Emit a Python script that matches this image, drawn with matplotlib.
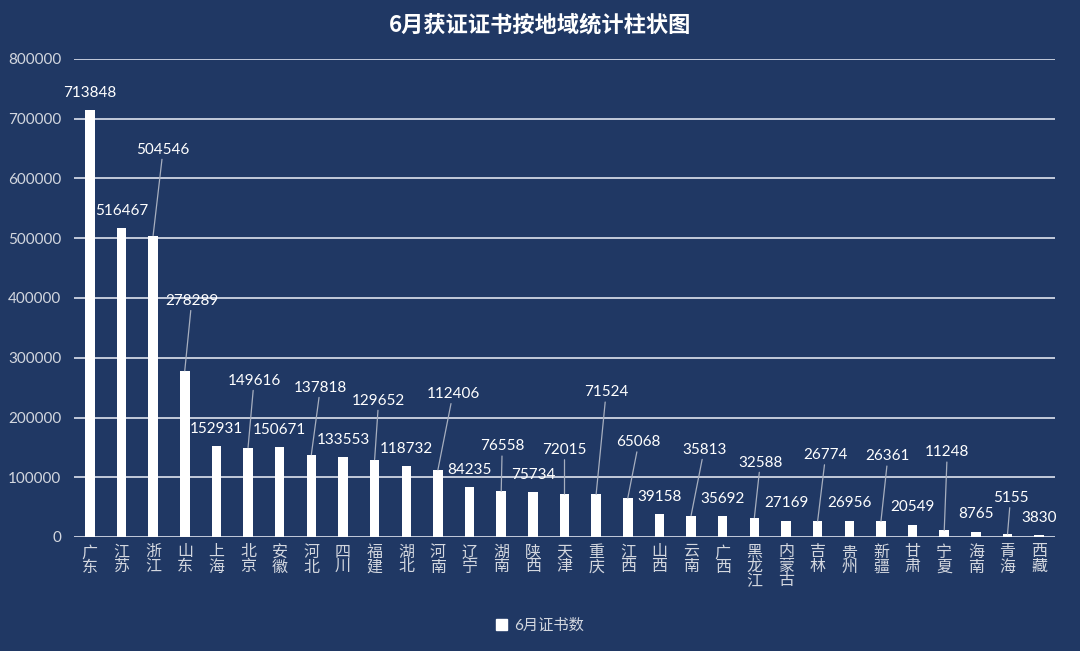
import matplotlib
matplotlib.use("Agg")
import matplotlib.pyplot as plt
from matplotlib.patches import Patch

plt.rcParams['font.family'] = ['Lato', 'Noto Sans CJK SC', 'DejaVu Sans']

BG = "#203864"
FG = "#ffffff"
TICK = "#d3d7df"
GRID = "#c3cbdb"
LEADER = "#a7afbf"

regions = ["广东", "江苏", "浙江", "山东", "上海", "北京", "安徽", "河北", "四川", "福建",
           "湖北", "河南", "辽宁", "湖南", "陕西", "天津", "重庆", "江西", "山西", "云南",
           "广西", "黑龙江", "内蒙古", "吉林", "贵州", "新疆", "甘肃", "宁夏", "海南", "青海", "西藏"]
counts = [713848, 516467, 504546, 278289, 152931, 149616, 150671, 137818, 133553, 129652,
          118732, 112406, 84235, 76558, 75734, 72015, 71524, 65068, 39158, 35813,
          35692, 32588, 27169, 26774, 26956, 26361, 20549, 11248, 8765, 5155, 3830]
yticks = [0, 100000, 200000, 300000, 400000, 500000, 600000, 700000, 800000]
series_name = "6月证书数"
title = "6月获证证书按地域统计柱状图"

# label placement relative to the bar top (pixels), as in the source chart
label_dx = [0, 0, 10, 7, 0, 6, 0, 9, 0, 4, 0, 15, 0, 1, 0, 0, 10, 11, 0, 13,
            0, 6, 0, 8, 0, 7, 0, 3, 0, 3, 0]
label_dy = [17, 17, 86, 70, 17, 67, 17, 67, 17, 59, 17, 76, 17, 45, 17, 44, 102, 56, 17, 66,
            17, 55, 18, 66, 18, 65, 18, 78, 18, 36, 17]

fig = plt.figure(figsize=(10.8, 6.51), dpi=100, facecolor=BG)
ax = fig.add_axes([74 / 1080, 1 - 537 / 651, 981 / 1080, 478 / 651], facecolor=BG)

x = range(len(regions))
ax.bar(x, counts, width=0.3, color=FG, zorder=3)

ax.set_xlim(-0.5, len(regions) - 0.5)
ax.set_ylim(0, 800000)
ax.set_yticks(yticks)
ax.set_yticklabels([str(v) for v in yticks])
ax.set_xticks(list(x))
ax.set_xticklabels(["\n".join(r) for r in regions], linespacing=1.05)
ax.yaxis.grid(True, color=GRID, lw=1.4, zorder=0)
ax.tick_params(axis="y", length=0, pad=9, labelsize=11, labelcolor=TICK)
ax.tick_params(axis="x", length=0, pad=6, labelsize=11.5, labelcolor=TICK)
for s in ax.spines.values():
    s.set_visible(False)

for i, v in enumerate(counts):
    kw = {}
    if label_dy[i] > 25:
        kw["arrowprops"] = dict(arrowstyle="-", color=LEADER, lw=0.9, shrinkA=0, shrinkB=0)
    ax.annotate(str(v), xy=(i, v), xytext=(label_dx[i], label_dy[i]),
                textcoords="offset pixels", ha="center", va="center",
                fontsize=11, color=FG, zorder=4, **kw)

fig.text(0.5, 1 - 25 / 651, title, ha="center", va="center", fontsize=16,
         fontweight="bold", color=FG, family=['Noto Sans CJK SC', 'DejaVu Sans'])

leg = fig.legend(handles=[Patch(facecolor=FG, edgecolor=FG, label=series_name)],
                 loc="center", bbox_to_anchor=(0.5, 1 - 626 / 651), frameon=False,
                 fontsize=11, handlelength=0.7, handleheight=0.7, handletextpad=0.5)
for t in leg.get_texts():
    t.set_color(TICK)

fig.savefig("out.png", dpi=100, facecolor=BG)
